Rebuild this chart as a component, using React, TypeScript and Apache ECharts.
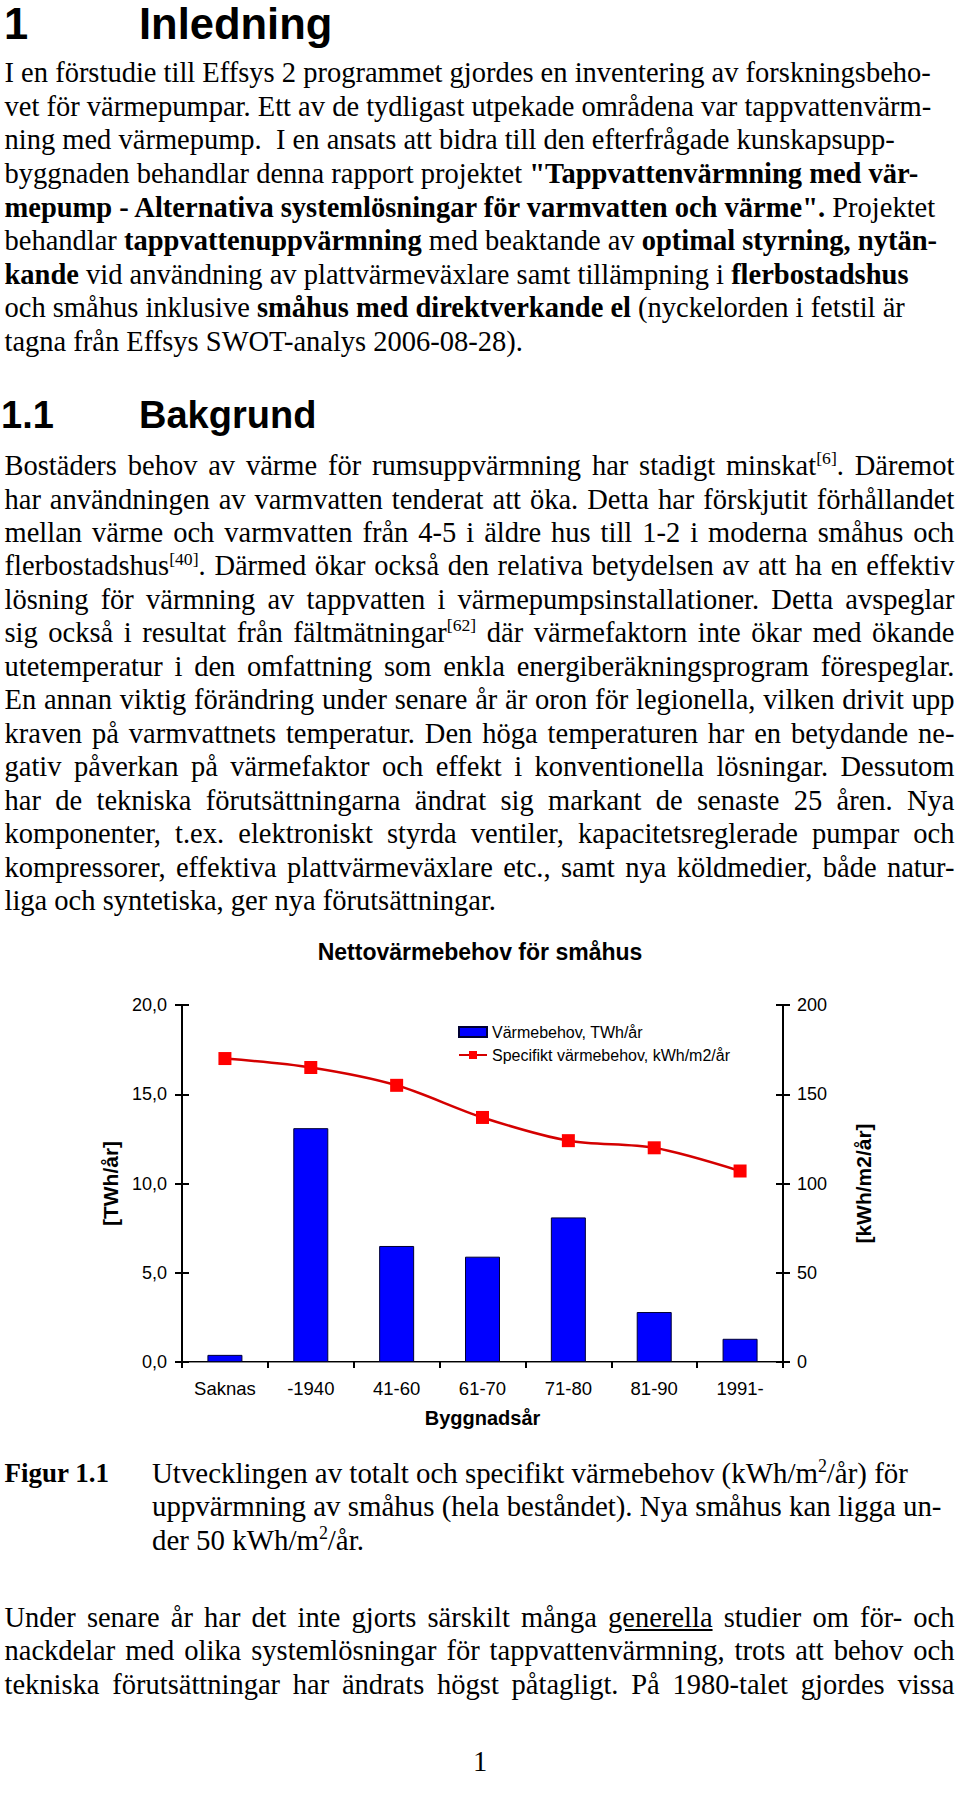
import React, { useEffect, useRef } from "react";
import * as echarts from "echarts";

// ---------- chart data ----------
const categories = ["Saknas", "-1940", "41-60", "61-70", "71-80", "81-90", "1991-"];
const varmebehovTWh = [0.4, 13.1, 6.5, 5.9, 8.1, 2.8, 1.3];
const specifiktKWhM2 = [170, 165, 155, 137, 124, 120, 107];
const leftAxisRange = { min: 0, max: 20, interval: 5 };
const rightAxisRange = { min: 0, max: 200, interval: 50 };
const seriesNames = ["Värmebehov, TWh/år", "Specifikt värmebehov, kWh/m2/år"];

// ---------- page text ----------
const para1 = [
  "I en förstudie till Effsys 2 programmet gjordes en inventering av forskningsbeho-",
  "vet för värmepumpar. Ett av de tydligast utpekade områdena var tappvattenvärm-",
  "ning med värmepump.  I en ansats att bidra till den efterfrågade kunskapsupp-",
  "byggnaden behandlar denna rapport projektet *\"Tappvattenvärmning med vär-*",
  "*mepump - Alternativa systemlösningar för varmvatten och värme\".* Projektet",
  "behandlar *tappvattenuppvärmning* med beaktande av *optimal styrning, nytän-*",
  "*kande* vid användning av plattvärmeväxlare samt tillämpning i *flerbostadshus*",
  "och småhus inklusive *småhus med direktverkande el* (nyckelorden i fetstil är",
  "tagna från Effsys SWOT-analys 2006-08-28).",
];
const para2 = [
  "Bostäders behov av värme för rumsuppvärmning har stadigt minskat^[6]^. Däremot",
  "har användningen av varmvatten tenderat att öka. Detta har förskjutit förhållandet",
  "mellan värme och varmvatten från 4-5 i äldre hus till 1-2 i moderna småhus och",
  "flerbostadshus^[40]^. Därmed ökar också den relativa betydelsen av att ha en effektiv",
  "lösning för värmning av tappvatten i värmepumpsinstallationer. Detta avspeglar",
  "sig också i resultat från fältmätningar^[62]^ där värmefaktorn inte ökar med ökande",
  "utetemperatur i den omfattning som enkla energiberäkningsprogram förespeglar.",
  "En annan viktig förändring under senare år är oron för legionella, vilken drivit upp",
  "kraven på varmvattnets temperatur. Den höga temperaturen har en betydande ne-",
  "gativ påverkan på värmefaktor och effekt i konventionella lösningar. Dessutom",
  "har de tekniska förutsättningarna ändrat sig markant de senaste 25 åren. Nya",
  "komponenter, t.ex. elektroniskt styrda ventiler, kapacitetsreglerade pumpar och",
  "kompressorer, effektiva plattvärmeväxlare etc., samt nya köldmedier, både natur-",
  "liga och syntetiska, ger nya förutsättningar.",
];
const caption = [
  "Utvecklingen av totalt och specifikt värmebehov (kWh/m^2^/år) för",
  "uppvärmning av småhus (hela beståndet). Nya småhus kan ligga un-",
  "der 50 kWh/m^2^/år.",
];
const para3 = [
  "Under senare år har det inte gjorts särskilt många _generella_ studier om för- och",
  "nackdelar med olika systemlösningar för tappvattenvärmning, trots att behov och",
  "tekniska förutsättningar har ändrats högst påtagligt. På 1980-talet gjordes vissa",
];

const SERIF = "'Liberation Serif', 'Times New Roman', serif";
const SANS = "'Liberation Sans', Arial, sans-serif";

type Seg = { t: string; b: boolean; s: boolean; u: boolean };

function parseSegs(line: string): Seg[] {
  const out: Seg[] = [];
  let b = false, s = false, u = false, buf = "";
  const flush = () => { if (buf) { out.push({ t: buf, b, s, u }); buf = ""; } };
  for (const ch of line) {
    if (ch === "*") { flush(); b = !b; continue; }
    if (ch === "^") { flush(); s = !s; continue; }
    if (ch === "_") { flush(); u = !u; continue; }
    buf += ch;
  }
  flush();
  return out;
}

function parseWords(line: string): Seg[][] {
  const words: Seg[][] = [];
  let cur: Seg[] = [];
  for (const seg of parseSegs(line)) {
    const parts = seg.t.split(" ");
    parts.forEach((p, i) => {
      if (i > 0) { if (cur.length) words.push(cur); cur = []; }
      if (p) cur.push({ ...seg, t: p });
    });
  }
  if (cur.length) words.push(cur);
  return words;
}

function renderSeg(g: Seg, i: number) {
  const st: React.CSSProperties = {};
  if (g.b) st.fontWeight = "bold";
  if (g.u) st.textDecoration = "underline";
  if (g.s) {
    Object.assign(st, { fontSize: "0.62em", position: "relative", top: "-0.62em", lineHeight: 0 });
  }
  return <span key={i} style={st}>{g.t}</span>;
}

function TextLine(props: {
  x: number; base: number; size: number; text: string; sans?: boolean; bold?: boolean; justify?: number; lh?: number;
}) {
  const { x, base, size, text, sans, bold, justify } = props;
  const lh = props.lh ?? 1;
  const ascent = sans ? 0.905 : 0.891;
  const total = sans ? 1.117 : 1.107;
  const off = ((lh - total) / 2 + ascent) * size;
  const style: React.CSSProperties = {
    position: "absolute",
    left: x,
    top: base - off,
    fontSize: size,
    lineHeight: `${lh * size}px`,
    fontFamily: sans ? SANS : SERIF,
    fontWeight: bold ? "bold" : "normal",
    whiteSpace: "pre",
    color: "#000",
  };
  if (justify) {
    const words = parseWords(text);
    return (
      <div style={{ ...style, width: justify, display: "flex", justifyContent: "space-between", alignItems: "baseline" }}>
        {words.map((w, i) => <span key={i}>{w.map(renderSeg)}</span>)}
      </div>
    );
  }
  return <div style={style}>{parseSegs(text).map(renderSeg)}</div>;
}

function Chart() {
  const ref = useRef<HTMLDivElement>(null);
  useEffect(() => {
    if (!ref.current) return;
    const chart = echarts.init(ref.current, null, { renderer: "svg" });
    const black = "#000";
    const tickStyle = { color: black, width: 2 };
    const nameStyle = { fontSize: 21, fontWeight: "bold", color: black, fontFamily: SANS };
    chart.setOption({
      animation: false,
      textStyle: { fontFamily: SANS },
      title: {
        text: "Nettovärmebehov för småhus",
        left: "center",
        top: 20,
        padding: 0,
        textStyle: { fontSize: 23, fontWeight: "bold", color: black, fontFamily: SANS },
      },
      legend: {
        orient: "vertical",
        left: 458,
        top: 104,
        padding: 0,
        itemWidth: 28,
        itemHeight: 10,
        itemGap: 7,
        textStyle: { fontSize: 16, lineHeight: 16, color: black, fontFamily: SANS },
        data: [
          { name: seriesNames[0], icon: "rect" },
          { name: seriesNames[1] },
        ],
      },
      grid: { left: 182, top: 85, width: 601, height: 357, containLabel: false },
      xAxis: [
        {
          type: "category",
          data: categories,
          position: "bottom",
          axisLine: { lineStyle: { color: black, width: 2 } },
          axisTick: { show: true, alignWithLabel: false, length: 6, lineStyle: tickStyle },
          axisLabel: { fontSize: 18.5, color: black, margin: 17, fontFamily: SANS },
          name: "Byggnadsår",
          nameLocation: "middle",
          nameGap: 46,
          nameTextStyle: { fontSize: 20, fontWeight: "bold", color: black, fontFamily: SANS },
        },
        {
          type: "category",
          data: categories,
          position: "top",
          axisLine: { show: true, lineStyle: { color: "#8c8c8c", width: 1 } },
          axisTick: { show: false },
          axisLabel: { show: false },
        },
      ],
      yAxis: [
        {
          type: "value",
          ...leftAxisRange,
          position: "left",
          axisLine: { show: true, lineStyle: { color: black, width: 2 } },
          axisTick: { show: true, length: 7, lineStyle: tickStyle },
          axisLabel: {
            fontSize: 18, color: black, margin: 15, fontFamily: SANS,
            formatter: (v: number) => v.toFixed(1).replace(".", ","),
          },
          splitLine: { show: false },
          name: "[TWh/år]",
          nameLocation: "middle",
          nameGap: 57,
          nameRotate: 90,
          nameTextStyle: nameStyle,
        },
        {
          type: "value",
          ...rightAxisRange,
          position: "right",
          axisLine: { show: true, lineStyle: { color: black, width: 2 } },
          axisTick: { show: true, length: 7, lineStyle: tickStyle },
          axisLabel: { fontSize: 18, color: black, margin: 14, fontFamily: SANS },
          splitLine: { show: false },
          name: "[kWh/m2/år]",
          nameLocation: "middle",
          nameGap: 70,
          nameRotate: 90,
          nameTextStyle: nameStyle,
        },
        {
          type: "value",
          ...leftAxisRange,
          position: "left",
          axisLine: { show: false },
          axisTick: { show: true, inside: true, length: 7, lineStyle: tickStyle },
          axisLabel: { show: false },
          splitLine: { show: false },
        },
        {
          type: "value",
          ...rightAxisRange,
          position: "right",
          axisLine: { show: false },
          axisTick: { show: true, inside: true, length: 7, lineStyle: tickStyle },
          axisLabel: { show: false },
          splitLine: { show: false },
        },
      ],
      series: [
        {
          name: seriesNames[0],
          type: "bar",
          xAxisIndex: 0,
          yAxisIndex: 0,
          data: varmebehovTWh,
          barWidth: 35,
          itemStyle: { color: "#0000ff", borderColor: "#000033", borderWidth: 1 },
        },
        {
          name: seriesNames[1],
          type: "line",
          xAxisIndex: 0,
          yAxisIndex: 1,
          data: specifiktKWhM2,
          smooth: 0.3,
          symbol: "rect",
          symbolSize: 13,
          lineStyle: { color: "#d40000", width: 2.5 },
          itemStyle: { color: "#ff0000" },
        },
      ],
    });
    return () => chart.dispose();
  }, []);
  return <div ref={ref} style={{ position: "absolute", left: 0, top: 920, width: 960, height: 520 }} />;
}

export default function App() {
  const S = 28.5;
  const C = 28.9;
  return (
    <div style={{ position: "absolute", left: 0, top: 0, width: 960, height: 1809, background: "#fff", overflow: "hidden" }}>
      <TextLine x={4} base={39.5} size={43.5} lh={0.8} sans bold text="1" />
      <TextLine x={139} base={39.5} size={43.5} lh={0.8} sans bold text="Inledning" />
      {para1.map((t, i) => (
        <TextLine key={"p1" + i} x={4.5} base={83 + 33.6 * i} size={S} text={t} />
      ))}
      <TextLine x={1} base={428} size={38} lh={0.9} sans bold text="1.1" />
      <TextLine x={139} base={428} size={38} lh={0.9} sans bold text="Bakgrund" />
      {para2.map((t, i) => (
        <TextLine key={"p2" + i} x={4.5} base={476 + 33.45 * i} size={S} text={t}
          justify={i < para2.length - 1 ? 950 : undefined} />
      ))}
      <Chart />
      <TextLine x={4.5} base={1483} size={27} bold text="Figur 1.1" />
      {caption.map((t, i) => (
        <TextLine key={"c" + i} x={152} base={1483 + 33.5 * i} size={C} text={t} />
      ))}
      {para3.map((t, i) => (
        <TextLine key={"p3" + i} x={4.5} base={1627.5 + 33.5 * i} size={S} text={t} justify={950} />
      ))}
      <div style={{ position: "absolute", left: 0, width: 960, top: 1772 - 0.8373 * S, fontSize: S, lineHeight: `${S}px`, fontFamily: SERIF, textAlign: "center", color: "#000" }}>1</div>
    </div>
  );
}
